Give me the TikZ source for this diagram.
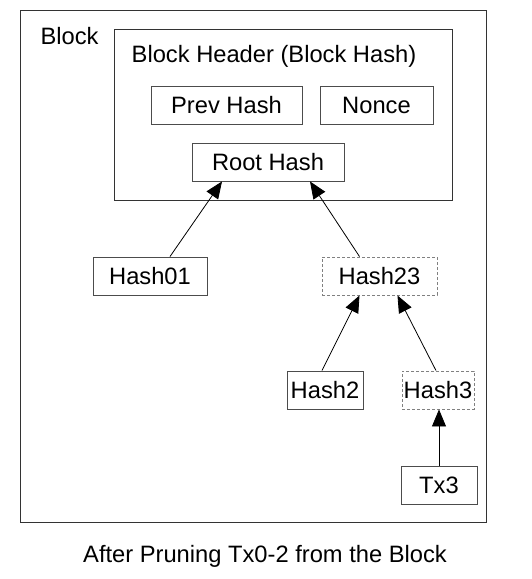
\documentclass[tikz,border=0pt]{standalone}
\usepackage{fontspec}
\setmainfont{Liberation Sans}
\usetikzlibrary{arrows.meta}
\tikzset{
  hashbox/.style={draw=black!70, line width=0.9pt, minimum height=38pt, inner sep=0pt},
  prunedbox/.style={hashbox, draw=black!50, dashed, dash pattern=on 3pt off 2pt},
  link/.style={line width=0.8pt, -{Triangle[width=14pt,length=17pt]}}
}
\begin{document}
\begin{tikzpicture}[x=1pt,y=-1pt,font=\fontsize{23.7}{28}\selectfont]
        \useasboundingbox (0,0) rectangle (531,579);
        %% Block
        \draw[black!80, line width=0.9pt] (20,10) rectangle (486,522);
        \node[anchor=west] (blocklabel) at (37,36) {Block};
        %% Header
        \draw[black!80, line width=0.9pt] (114,29) rectangle (452,200);
        \node (headerlabel) at (274,56) {Block Header (Block Hash)};
        \node[hashbox, minimum width=151pt] (prev) at (226.5,105) {Prev Hash};
        \node[hashbox, minimum width=113pt] (nonce) at (376.5,105) {Nonce};
        \node[hashbox, minimum width=152pt] (root) at (268,162) {Root Hash};
        %% Tree
        \node[hashbox, minimum width=114pt] (hash01) at (150,276) {Hash01};
        \node[prunedbox, minimum width=115pt] (hash23) at (379.5,276) {Hash23};
        \node[hashbox, minimum width=76pt] (hash2) at (325,390) {Hash2};
        \node[prunedbox, minimum width=72pt] (hash3) at (438,390) {Hash3};
        \node[hashbox, minimum width=76pt] (tx3) at (439,485) {Tx3};
        \draw[link] ([xshift=20pt]hash01.north) -- ([xshift=-46pt]root.south);
        \draw[link] ([xshift=-20pt]hash23.north) -- ([xshift=42pt]root.south);
        \draw[link] ([xshift=-3pt]hash2.north) -- ([xshift=-20pt]hash23.south);
        \draw[link] ([xshift=-2pt]hash3.north) -- ([xshift=18pt]hash23.south);
        \draw[link] (tx3.north) -- (tx3.north |- hash3.south);
        %% Caption
        \node (caption) at (265,556) {After Pruning Tx0-2 from the Block};
    \end{tikzpicture}
\end{document}
